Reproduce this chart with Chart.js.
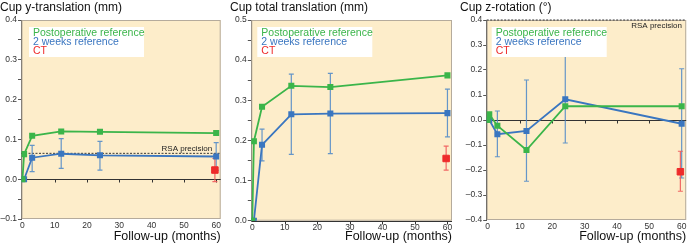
<!DOCTYPE html>
<html>
<head>
<meta charset="utf-8">
<script src="https://cdn.jsdelivr.net/npm/chart.js@4.4.1/dist/chart.umd.min.js"></script>
<style>
    html, body { margin: 0; padding: 0; background: #fff; }
    #wrap { position: relative; width: 692px; height: 245px; }
    canvas { position: absolute; top: 0; }
</style>
</head>
<body>
<div id="wrap">
    <canvas id="chartY" width="230" height="245" style="left:0"></canvas>
    <canvas id="chartTotal" width="230" height="245" style="left:230px"></canvas>
    <canvas id="chartRot" width="232" height="245" style="left:460px"></canvas>
</div>
<script>
// follow-up times (months); 2 weeks = 0.5 month
const monthsPost = [0, 0.5, 3, 12, 24, 60];
const months2w = [0.5, 3, 12, 24, 60];
const monthsCt = [59.6];

// Cup y-translation (mm)
const yTransPost = [0, 0.063, 0.109, 0.120, 0.119, 0.116];
const yTrans2w = [0, 0.054, 0.064, 0.060, 0.057];
const yTrans2wLow = [null, 0.019, 0.027, 0.023, 0.022];
const yTrans2wHigh = [null, 0.085, 0.102, 0.095, 0.092];
const yTransCt = [0.023];
const yTransCtLow = [-0.006];
const yTransCtHigh = [0.052];
const yTransRsa = 0.065;

// Cup total translation (mm)
const totalPost = [0, 0.198, 0.284, 0.336, 0.333, 0.362];
const total2w = [0, 0.189, 0.265, 0.267, 0.268];
const total2wLow = [null, 0.149, 0.165, 0.167, 0.209];
const total2wHigh = [null, 0.228, 0.365, 0.367, 0.328];
const totalCt = [0.155];
const totalCtLow = [0.126];
const totalCtHigh = [0.186];

// Cup z-rotation (deg)
const zRotPost = [0, 0.023, -0.023, -0.120, 0.055, 0.055];
const zRot2w = [0, -0.057, -0.044, 0.083, -0.015];
const zRot2wLow = [null, -0.147, -0.245, -0.092, -0.232];
const zRot2wHigh = [null, 0.036, 0.160, 0.258, 0.205];
const zRotCt = [-0.207];
const zRotCtLow = [-0.285];
const zRotCtHigh = [-0.125];
const zRotRsa = 0.4;

const xTickValues = [0, 10, 20, 30, 40, 50, 60];

const GREEN = "#3bb54a";
const BLUE = "#3a76c0";
const RED = "#ee2b2b";
const FONT = '"Liberation Sans", Arial, Helvetica, sans-serif';

Chart.defaults.font.family = FONT;
Chart.defaults.color = "#333";

function points(xs, ys) {
    return xs.map(function (x, i) { return { x: x, y: ys[i] }; });
}

function yLabel(v) {
    const k = Math.round(v * 20);
    if (k % 2 !== 0) return "";
    const val = k / 20;
    return (val < 0 ? "\u2013" : "") + Math.abs(val).toFixed(1);
}

const panelDecor = {
    id: "panelDecor",
    beforeDraw: function (chart) {
        const a = chart.chartArea;
        const ctx = chart.ctx;
        ctx.save();
        ctx.fillStyle = "#fdedca";
        ctx.fillRect(a.left, a.top, a.right - a.left, a.bottom - a.top);
        ctx.restore();
    },
    beforeDatasetsDraw: function (chart, args, opts) {
        const a = chart.chartArea;
        const ctx = chart.ctx;
        const xS = chart.scales.x;
        const yS = chart.scales.y;
        ctx.save();

        // border of the plot area
        ctx.strokeStyle = "#b5ab9c";
        ctx.lineWidth = 1;
        ctx.strokeRect(a.left + 0.5, a.top + 0.5, a.right - a.left - 1, a.bottom - a.top - 1);

        // zero line with small ticks
        const y0 = Math.round(yS.getPixelForValue(0)) + 0.5;
        ctx.strokeStyle = "#333";
        ctx.beginPath();
        ctx.moveTo(a.left, y0);
        ctx.lineTo(a.right, y0);
        xTickValues.forEach(function (v) {
            if (v === 0) return;
            const px = Math.round(xS.getPixelForValue(v)) + 0.5;
            ctx.moveTo(px, y0);
            ctx.lineTo(px, y0 + 3);
        });
        ctx.stroke();

        // RSA precision
        if (opts.rsa != null) {
            const yr = yS.getPixelForValue(opts.rsa);
            ctx.setLineDash([2, 1.5]);
            ctx.lineWidth = 0.9;
            ctx.strokeStyle = "#222";
            ctx.beginPath();
            ctx.moveTo(a.left, yr);
            ctx.lineTo(a.right, yr);
            ctx.stroke();
            ctx.setLineDash([]);
            ctx.fillStyle = "#222";
            ctx.font = "8px " + FONT;
            ctx.textAlign = "right";
            ctx.textBaseline = "middle";
            ctx.fillText("RSA precision", a.right - opts.rsaInset, yr + opts.rsaDy);
        }

        // error bars
        opts.errors.forEach(function (e) {
            ctx.strokeStyle = e.color;
            ctx.lineWidth = 1.2;
            e.x.forEach(function (xv, i) {
                if (e.low[i] == null) return;
                const px = xS.getPixelForValue(xv);
                const p1 = yS.getPixelForValue(e.low[i]);
                const p2 = yS.getPixelForValue(e.high[i]);
                ctx.beginPath();
                ctx.moveTo(px, p1);
                ctx.lineTo(px, p2);
                ctx.moveTo(px - 2.5, p1);
                ctx.lineTo(px + 2.5, p1);
                ctx.moveTo(px - 2.5, p2);
                ctx.lineTo(px + 2.5, p2);
                ctx.stroke();
            });
        });
        ctx.restore();
    },
    afterDraw: function (chart, args, opts) {
        const a = chart.chartArea;
        const ctx = chart.ctx;
        const bx = a.left + opts.legendDx;
        const by = a.top + opts.legendDy;
        ctx.save();
        ctx.fillStyle = "#fff";
        ctx.fillRect(bx, by, 115, 30);
        ctx.font = "10.5px " + FONT;
        ctx.textAlign = "left";
        ctx.textBaseline = "middle";
        [["Postoperative reference", GREEN], ["2 weeks reference", BLUE], ["CT", RED]].forEach(function (l, i) {
            ctx.fillStyle = l[1];
            ctx.fillText(l[0], bx + 4, by + 6 + i * 9);
        });
        ctx.restore();
    },
};

function buildChart(id, cfg) {
    const ctx = document.getElementById(id).getContext("2d");
    return new Chart(ctx, {
        type: "scatter",
        data: {
            datasets: [
                {
                    label: "Postoperative reference",
                    data: points(monthsPost, cfg.post),
                    showLine: true,
                    borderColor: GREEN,
                    backgroundColor: GREEN,
                    borderWidth: 1.8,
                    pointStyle: "rect",
                    pointRadius: 3,
                },
                {
                    label: "2 weeks reference",
                    data: points(months2w, cfg.w2),
                    showLine: true,
                    borderColor: BLUE,
                    backgroundColor: BLUE,
                    borderWidth: 1.8,
                    pointStyle: "rect",
                    pointRadius: 3,
                },
                {
                    label: "CT",
                    data: points(monthsCt, cfg.ct),
                    showLine: false,
                    borderColor: RED,
                    backgroundColor: RED,
                    pointStyle: "rect",
                    pointRadius: 4.6,
                },
            ],
        },
        options: {
            responsive: false,
            animation: false,
            layout: { padding: { left: 0, right: cfg.padRight, top: 0, bottom: 0 } },
            plugins: {
                legend: { display: false },
                tooltip: { enabled: false },
                title: {
                    display: true,
                    text: cfg.title,
                    align: "start",
                    color: "#111",
                    font: { size: 12, weight: "normal" },
                    padding: { top: 0, bottom: 5.6 },
                },
                panelDecor: {
                    rsa: cfg.rsa,
                    rsaInset: cfg.rsaInset,
                    rsaDy: cfg.rsaDy,
                    legendDx: cfg.legendDx,
                    legendDy: 7,
                    errors: [
                        { x: months2w, low: cfg.w2Low, high: cfg.w2High, color: "rgba(74,134,200,0.85)" },
                        { x: monthsCt, low: cfg.ctLow, high: cfg.ctHigh, color: "rgba(240,90,90,0.9)" },
                    ],
                },
            },
            scales: {
                x: {
                    type: "linear",
                    min: -0.3,
                    max: 61.4,
                    afterBuildTicks: function (s) {
                        s.ticks = xTickValues.map(function (v) { return { value: v }; });
                    },
                    afterFit: function (s) { s.height = 245 - 20 - cfg.plotH; },
                    ticks: { font: { size: 8.5 }, color: "#333", padding: 1.5, maxRotation: 0, autoSkip: false },
                    grid: { display: false, drawTicks: false },
                    border: { display: false },
                    title: {
                        display: true,
                        text: "Follow-up (months)",
                        align: "end",
                        color: "#111",
                        font: { size: 12.5 },
                        padding: { top: 0, bottom: 1 },
                    },
                },
                y: {
                    min: cfg.yMin,
                    max: cfg.yMax,
                    afterFit: function (s) { s.width = cfg.axisW; },
                    ticks: { stepSize: 0.05, font: { size: 8.5 }, color: "#333", padding: 1, callback: yLabel },
                    grid: { display: true, drawOnChartArea: false, drawTicks: true, tickLength: 3.5, color: "#555" },
                    border: { display: true, color: "#555", width: 1 },
                },
            },
        },
        plugins: [panelDecor],
    });
}

buildChart("chartY", {
    title: "Cup y-translation (mm)",
    post: yTransPost, w2: yTrans2w, w2Low: yTrans2wLow, w2High: yTrans2wHigh,
    ct: yTransCt, ctLow: yTransCtLow, ctHigh: yTransCtHigh,
    rsa: yTransRsa, rsaInset: 8.5, rsaDy: -5,
    yMin: -0.1, yMax: 0.4, axisW: 21.5, padRight: 9.3, plotH: 199, legendDx: 7.5,
});

buildChart("chartTotal", {
    title: "Cup total translation (mm)",
    post: totalPost, w2: total2w, w2Low: total2wLow, w2High: total2wHigh,
    ct: totalCt, ctLow: totalCtLow, ctHigh: totalCtHigh,
    rsa: null,
    yMin: 0, yMax: 0.5, axisW: 21.3, padRight: 8, plotH: 200.7, legendDx: 6,
});

buildChart("chartRot", {
    title: "Cup z-rotation (\u00b0)",
    post: zRotPost, w2: zRot2w, w2Low: zRot2wLow, w2High: zRot2wHigh,
    ct: zRotCt, ctLow: zRotCtLow, ctHigh: zRotCtHigh,
    rsa: zRotRsa, rsaInset: 4.3, rsaDy: 6,
    yMin: -0.4, yMax: 0.4, axisW: 26.7, padRight: 5, plotH: 200, legendDx: 5,
});
</script>
</body>
</html>
